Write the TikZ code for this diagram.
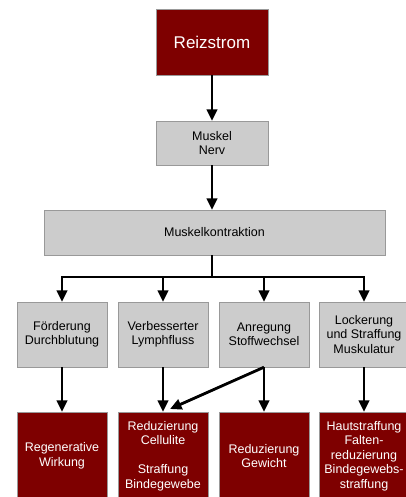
\documentclass[tikz,border=0pt]{standalone}
\usepackage{fontspec}
\setmainfont{Liberation Sans}
\usetikzlibrary{arrows.meta}
\definecolor{darkred}{HTML}{7E0000}
\definecolor{boxgrey}{HTML}{CCCCCC}
\definecolor{edgegrey}{HTML}{999999}
\begin{document}
\begin{tikzpicture}[x=1pt,y=1pt,
  redbox/.style={draw=edgegrey,fill=darkred,text=white,align=center,inner sep=0pt,
    font=\fontsize{12.5}{14.5}\selectfont},
  greybox/.style={draw=edgegrey,fill=boxgrey,text=black,align=center,inner sep=0pt,
    font=\fontsize{12.5}{14.5}\selectfont},
  conn/.style={line width=2.8pt,draw=black},
  arr/.style={conn,-{Triangle[width=10.5pt,length=11.5pt]}}]
\useasboundingbox (0,0) rectangle (406,-497);
\clip (0,0) rectangle (406,-497);
\fill[white] (0,0) rectangle (406,-497);
% top
\node[redbox,minimum width=112,minimum height=66,font=\fontsize{17}{20}\selectfont] (rs) at (212,-42) {Reizstrom};
\node[greybox,minimum width=112,minimum height=44] (mn) at (212,-143) {Muskel\\Nerv};
\node[greybox,minimum width=341,minimum height=45] (mk) at (214.5,-232.5) {Muskelkontraktion};
% grey row
\node[greybox,minimum width=90,minimum height=65] (g1) at (62,-334.5) {Förderung\\Durchblutung};
\node[greybox,minimum width=90,minimum height=65] (g2) at (163,-334.5) {Verbesserter\\Lymphfluss};
\node[greybox,minimum width=90,minimum height=65] (g3) at (264,-334.5) {Anregung\\Stoffwechsel};
\node[greybox,minimum width=90,minimum height=65] (g4) at (364,-334.5) {Lockerung\\und Straffung\\Muskulatur};
% red row
\node[redbox,minimum width=90,minimum height=88] (r1) at (62,-456) {Regenerative\\Wirkung};
\node[redbox,minimum width=90,minimum height=88] (r2) at (163,-456) {Reduzierung\\Cellulite\\[14.5pt]Straffung\\Bindegewebe};
\node[redbox,minimum width=90,minimum height=88] (r3) at (264,-456) {Reduzierung\\Gewicht};
\node[redbox,minimum width=90,minimum height=88] (r4) at (364,-456) {Hautstraffung\\Falten-\\reduzierung\\Bindegewebs-\\straffung};
% junction
\coordinate (j) at (212,-277);
\coordinate (j1) at (62,-277);
\coordinate (j2) at (163,-277);
\coordinate (j3) at (264,-277);
\coordinate (j4) at (364,-277);
\coordinate (d) at (170,-409);
% connectors
\draw[arr] (rs) -- (mn);
\draw[arr] (mn.south) -- (mn.south |- mk.north);
\draw[conn] (mk.south -| j) -- (j);
\draw[conn,line cap=rect] (j1) -- (j4);
\draw[arr] (j1) -- (g1);
\draw[arr] (j2) -- (g2);
\draw[arr] (j3) -- (g3);
\draw[arr] (j4) -- (g4);
\draw[arr] (g1) -- (r1);
\draw[arr] (g2) -- (r2);
\draw[arr] (g3) -- (r3);
\draw[arr] (g4) -- (r4);
\draw[arr] (g3.south) -- (d);
\end{tikzpicture}
\end{document}
